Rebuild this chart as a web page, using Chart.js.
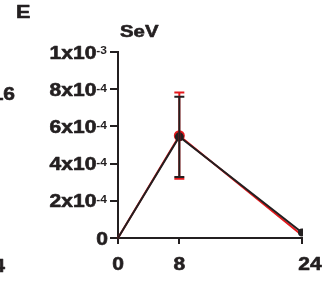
<!DOCTYPE html>
<html>
<head>
<meta charset="utf-8">
<script src="https://cdn.jsdelivr.net/npm/chart.js@4"></script>
<style>
  body { margin: 0; background: #fff; }
</style>
</head>
<body>
<canvas id="sevChart" width="325" height="281"></canvas>
<script>
const hours = [0, 8, 24];
const xTicks = [0, 8, 24];
const xTickLabels = ["0", "8", "24"];
const yTicks = [0, 2e-4, 4e-4, 6e-4, 8e-4, 1e-3];
const yTickMant = ["0", "2x10", "4x10", "6x10", "8x10", "1x10"];
const yTickExp = ["", "-4", "-4", "-4", "-4", "-3"];
const panelTitle = "SeV";
const panelLetter = "E";
const cutOffTexts = ["16", "4"];

const blackMean = [0, 5.44e-4, 0.3e-4];
const blackErr = [0, 2.16e-4, 0];
const redMean = [0, 5.5e-4, 0.15e-4];
const redErr = [0, 2.32e-4, 0];

const ink = "#231f20";
const red = "#e3191c";
const fontFam = '"Liberation Sans", Arial, sans-serif';
const stretch = 1.2;

function pts(means) {
    return hours.map((h, i) => ({ x: h, y: means[i] }));
}

// stretched heavy text, anchored at (x, baseline)
function text(ctx, str, x, y, size, align) {
    ctx.save();
    ctx.font = "bold " + size + "px " + fontFam;
    const w = ctx.measureText(str).width * stretch;
    let left = x;
    if (align === "right") left = x - w;
    if (align === "center") left = x - w / 2;
    ctx.translate(left, y);
    ctx.scale(stretch, 1);
    ctx.textAlign = "left";
    ctx.textBaseline = "alphabetic";
    if (size > 12) {
        ctx.strokeStyle = ctx.fillStyle;
        ctx.lineWidth = 0.6;
        ctx.lineJoin = "round";
        ctx.strokeText(str, 0, 0);
    }
    ctx.fillText(str, 0, 0);
    ctx.restore();
    return w;
}

const extras = {
    id: "extras",
    afterDatasetsDraw(chart) {
        const ctx = chart.ctx;
        const xs = chart.scales.x, ys = chart.scales.y;
        const bars = [[redMean, redErr, red], [blackMean, blackErr, ink]];
        ctx.save();
        bars.forEach(([m, e, col]) => {
            ctx.strokeStyle = col;
            ctx.lineWidth = 2;
            hours.forEach((h, i) => {
                if (!e[i]) return;
                const px = xs.getPixelForValue(h);
                const top = ys.getPixelForValue(m[i] + e[i]);
                const bot = ys.getPixelForValue(m[i] - e[i]);
                ctx.beginPath();
                ctx.moveTo(px, top); ctx.lineTo(px, bot);
                ctx.moveTo(px - 5, top); ctx.lineTo(px + 5, top);
                ctx.moveTo(px - 5, bot); ctx.lineTo(px + 5, bot);
                ctx.stroke();
            });
        });
        ctx.restore();
    },
    afterDraw(chart) {
        const ctx = chart.ctx;
        const xs = chart.scales.x, ys = chart.scales.y;
        ctx.save();
        ctx.fillStyle = ink;
        // y labels with superscript exponents
        yTicks.forEach((v, i) => {
            const py = ys.getPixelForValue(v);
            let x = ys.right - 11;
            if (yTickExp[i]) {
                x -= text(ctx, yTickExp[i], x, py + 2.3, 10, "right");
            } else {
                x += 1;
            }
            text(ctx, yTickMant[i], x, py + 6.6, 17.5, "right");
        });
        // x labels
        xTicks.forEach((v, i) => {
            const px = xs.getPixelForValue(v) + (i === xTicks.length - 1 ? 8 : 0);
            text(ctx, xTickLabels[i], px, xs.top + 32, 17.5, "center");
        });
        text(ctx, panelLetter, 16, 18, 18, "left");
        text(ctx, panelTitle, 120, 37, 17, "left");
        text(ctx, cutOffTexts[0], 15, 100, 17.5, "right");
        text(ctx, cutOffTexts[1], 5, 272, 17.5, "right");
        ctx.restore();
    }
};

const ctx = document.getElementById("sevChart").getContext("2d");
new Chart(ctx, {
    type: "line",
    data: {
        datasets: [
            {
                label: "black",
                data: pts(blackMean),
                borderColor: ink,
                backgroundColor: ink,
                borderWidth: 2,
                pointRadius: [0, 4.5, 4],
                pointBorderWidth: 0,
                clip: { left: false, top: false, right: 1, bottom: false }
            },
            {
                label: "red",
                data: pts(redMean),
                borderColor: red,
                backgroundColor: red,
                borderWidth: 2,
                pointRadius: [0, 5.5, 0],
                pointBorderWidth: 0,
                clip: { left: false, top: false, right: 1, bottom: false }
            }
        ]
    },
    options: {
        responsive: false,
        animation: false,
        events: [],
        layout: { padding: { left: 0, top: 52, right: 23, bottom: 0 } },
        plugins: { legend: { display: false }, tooltip: { enabled: false } },
        scales: {
            x: {
                type: "linear",
                min: 0,
                max: 24,
                afterBuildTicks: (s) => { s.ticks = xTicks.map(v => ({ value: v })); },
                afterFit: (s) => { s.height = 43; },
                grid: { drawOnChartArea: false, drawTicks: true, tickLength: 6, color: ink, lineWidth: 2 },
                border: { display: true, color: ink, width: 2 },
                ticks: { color: "rgba(0,0,0,0)", callback: () => "" }
            },
            y: {
                min: 0,
                max: 1e-3,
                afterBuildTicks: (s) => { s.ticks = yTicks.map(v => ({ value: v })); },
                afterFit: (s) => { s.width = 118; },
                grid: { drawOnChartArea: false, drawTicks: true, tickLength: 8, color: ink, lineWidth: 2 },
                border: { display: true, color: ink, width: 2 },
                ticks: { color: "rgba(0,0,0,0)", callback: () => "" }
            }
        }
    },
    plugins: [extras]
});
</script>
</body>
</html>
